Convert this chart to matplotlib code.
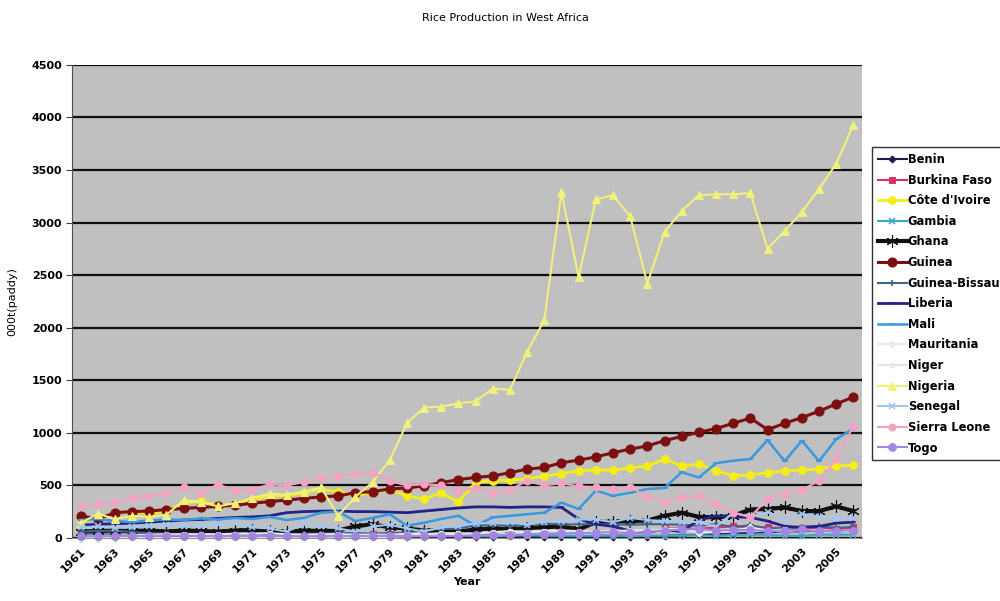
import numpy as np
import matplotlib
matplotlib.use("Agg")
import matplotlib.pyplot as plt

years = list(range(1961, 2007))

countries = [
    "Benin", "Burkina Faso", "Côte d'Ivoire", "Gambia", "Ghana", "Guinea",
    "Guinea-Bissau", "Liberia", "Mali", "Mauritania", "Niger", "Nigeria",
    "Senegal", "Sierra Leone", "Togo",
]

benin = [2, 3, 3, 4, 5, 6, 8, 6, 8, 12, 10, 8, 6, 7, 10, 8,
         10, 9, 8, 9, 10, 8, 9, 10, 12, 14, 10, 10, 12, 10,
         12, 11, 9, 13, 20, 25, 30, 35, 38, 50, 55, 60, 65, 70, 63, 65]
burkina_faso = [30, 35, 33, 35, 38, 35, 38, 40, 42, 38, 35, 40, 30, 35, 40, 30,
                30, 35, 40, 20, 40, 35, 40, 30, 30, 25, 35, 40, 45, 50,
                45, 40, 45, 55, 90, 90, 85, 100, 110, 100, 100, 90, 95, 95, 80, 100]
cote_divoire = [150, 200, 230, 250, 230, 260, 330, 350, 310, 320, 360, 400, 400, 430, 460, 440,
                400, 430, 460, 400, 370, 430, 340, 530, 545, 550, 560, 590, 610, 640,
                645, 645, 665, 685, 750, 685, 700, 640, 590, 600, 620, 640, 645, 655, 685, 690]
gambia = [30, 32, 28, 30, 33, 35, 28, 30, 32, 30, 28, 30, 25, 30, 28, 35,
          20, 25, 30, 25, 30, 35, 25, 20, 15, 20, 25, 20, 20, 20,
          20, 20, 18, 20, 20, 25, 25, 20, 30, 30, 30, 20, 20, 30, 30, 30]
ghana = [60, 65, 70, 65, 70, 60, 70, 65, 60, 70, 75, 65, 60, 70, 65, 70,
         110, 130, 100, 90, 70, 65, 60, 80, 90, 80, 95, 100, 110, 80,
         150, 155, 160, 165, 210, 240, 200, 195, 210, 270, 275, 290, 255, 255, 300, 255]
guinea = [210, 180, 240, 250, 255, 270, 280, 290, 300, 310, 330, 345, 360, 375, 390, 400,
          430, 440, 465, 475, 495, 525, 555, 575, 590, 620, 655, 670, 715, 740,
          770, 810, 845, 875, 925, 965, 1005, 1040, 1090, 1140, 1030, 1090, 1145, 1205, 1275, 1340]
guinea_bissau = [60, 65, 70, 55, 45, 40, 30, 35, 30, 35, 40, 35, 30, 35, 40, 45,
                 45, 40, 45, 50, 75, 85, 90, 120, 120, 115, 125, 140, 125, 130,
                 130, 130, 125, 130, 130, 125, 115, 130, 105, 120, 90, 90, 105, 110, 95, 105]
liberia = [120, 130, 135, 140, 150, 160, 170, 175, 185, 195, 200, 210, 240, 250, 255, 255,
           250, 250, 245, 240, 255, 270, 285, 295, 295, 290, 295, 295, 290, 180,
           130, 110, 65, 55, 80, 60, 170, 210, 200, 195, 160, 110, 100, 110, 140, 150]
mali = [170, 180, 160, 150, 165, 175, 170, 185, 175, 190, 180, 200, 170, 190, 240, 250,
        160, 190, 225, 115, 145, 180, 210, 115, 195, 210, 225, 240, 335, 275,
        450, 400, 430, 465, 475, 625, 575, 710, 735, 750, 930, 730, 925, 730, 940, 1040]
mauritania = [1, 1, 1, 1, 1, 1, 1, 1, 2, 2, 3, 2, 2, 2, 3, 3,
              4, 5, 10, 15, 20, 25, 30, 25, 30, 40, 50, 40, 60, 40,
              50, 45, 55, 65, 85, 85, 50, 55, 65, 100, 70, 60, 80, 70, 65, 60]
niger = [10, 15, 20, 25, 30, 35, 35, 35, 35, 40, 40, 45, 35, 30, 35, 35,
         30, 30, 30, 40, 35, 45, 45, 40, 55, 65, 60, 70, 70, 65,
         60, 65, 70, 75, 75, 80, 70, 75, 80, 60, 70, 80, 70, 75, 65, 70]
nigeria = [140, 230, 180, 210, 200, 220, 360, 340, 300, 330, 380, 420, 410, 440, 480, 210,
           390, 530, 740, 1090, 1240, 1250, 1280, 1300, 1420, 1410, 1770, 2070, 3290, 2480,
           3220, 3260, 3060, 2420, 2910, 3110, 3260, 3270, 3270, 3280, 2750, 2920, 3100, 3320, 3560, 3930]
senegal = [100, 110, 95, 100, 110, 120, 115, 110, 130, 140, 100, 90, 60, 130, 110, 90,
           60, 110, 125, 90, 60, 100, 110, 140, 140, 150, 125, 155, 160, 175,
           175, 150, 190, 170, 160, 155, 150, 105, 240, 200, 245, 170, 230, 200, 190, 190]
sierra_leone = [300, 320, 340, 380, 400, 430, 480, 430, 510, 450, 460, 510, 500, 530, 570, 590,
                610, 620, 540, 500, 510, 500, 450, 470, 430, 460, 540, 500, 520, 490,
                485, 465, 485, 390, 345, 385, 400, 320, 240, 200, 370, 420, 460, 540, 750, 1065]
togo = [15, 15, 18, 17, 20, 22, 20, 18, 15, 18, 16, 18, 15, 14, 15, 16,
        17, 18, 20, 18, 15, 17, 20, 25, 30, 28, 35, 40, 45, 45,
        50, 55, 45, 60, 70, 80, 85, 70, 75, 75, 65, 70, 80, 65, 70, 70]

series = [benin, burkina_faso, cote_divoire, gambia, ghana, guinea,
          guinea_bissau, liberia, mali, mauritania, niger, nigeria,
          senegal, sierra_leone, togo]

# colour, marker, marker size, line width per country
styles = [
    ("#1c1c50", "D", 3.5, 1.5),
    ("#d8306c", "s", 4.5, 1.5),
    ("#f4ee18", "o", 5.5, 2.0),
    ("#3aa8c8", "x", 4.5, 1.5),
    ("#101010", (6, 2, 0), 9.0, 3.0),
    ("#7c1010", "o", 6.5, 2.2),
    ("#3c6688", "+", 5.0, 1.5),
    ("#22228a", "_", 4.0, 2.0),
    ("#3898e0", "_", 5.0, 1.8),
    ("#e6ecee", "D", 3.5, 1.5),
    ("#e4e8e2", "s", 3.5, 1.5),
    ("#f2f07c", "^", 5.5, 1.5),
    ("#a6c6f2", "x", 4.5, 1.5),
    ("#f4a2c4", "o", 5.0, 1.5),
    ("#a484e4", "o", 5.5, 1.5),
]


def main():
    fig = plt.figure(figsize=(10, 6.01), dpi=100)
    ax = fig.add_axes([0.072, 0.105, 0.79, 0.787])
    ax.set_facecolor("#c0c0c0")

    x = np.arange(len(years))
    for name, values, (color, marker, ms, lw) in zip(countries, series, styles):
        ax.plot(x, values, color=color, marker=marker, markersize=ms,
                linewidth=lw, markeredgewidth=1.2 if marker in ("x", "+", "_") else 0.8,
                markeredgecolor=color, label=name, clip_on=False)

    ax.set_xlim(-0.5, len(years) - 0.5)
    ax.set_ylim(0, 4500)
    ax.set_yticks(np.arange(0, 4501, 500))
    ax.yaxis.grid(True, color="#101010", linewidth=1.6)
    ax.set_axisbelow(True)

    ax.set_xticks(x[::2])
    ax.set_xticklabels([str(y) for y in years[::2]], rotation=45,
                       ha="right", va="top", rotation_mode="anchor",
                       fontsize=7.8, fontweight="bold")
    for lab in ax.get_yticklabels():
        lab.set_fontsize(8)
        lab.set_fontweight("bold")
    ax.tick_params(axis="x", length=0, pad=6)
    ax.tick_params(axis="y", length=4, color="#404040", pad=3)

    for side in ("top", "right"):
        ax.spines[side].set_visible(False)
    ax.spines["left"].set_color("#505050")
    ax.spines["bottom"].set_color("#909090")

    ax.set_xlabel("Year", fontsize=8, fontweight="bold", labelpad=2)
    ax.set_ylabel("000t(paddy)", fontsize=8, labelpad=10)
    fig.text(0.505, 0.97, "Rice Production in West Africa", ha="center",
             va="center", fontsize=8)

    leg = fig.legend(loc="upper left", bbox_to_anchor=(0.872, 0.755),
                     fontsize=8.3, frameon=True, fancybox=False,
                     edgecolor="black", handlelength=2.5, handletextpad=0.1,
                     labelspacing=0.66, borderpad=0.5, borderaxespad=0)
    leg.get_frame().set_linewidth(1.0)
    for text in leg.get_texts():
        text.set_fontweight("bold")

    fig.savefig("out.png", dpi=100)
    plt.close(fig)


if __name__ == "__main__":
    main()
